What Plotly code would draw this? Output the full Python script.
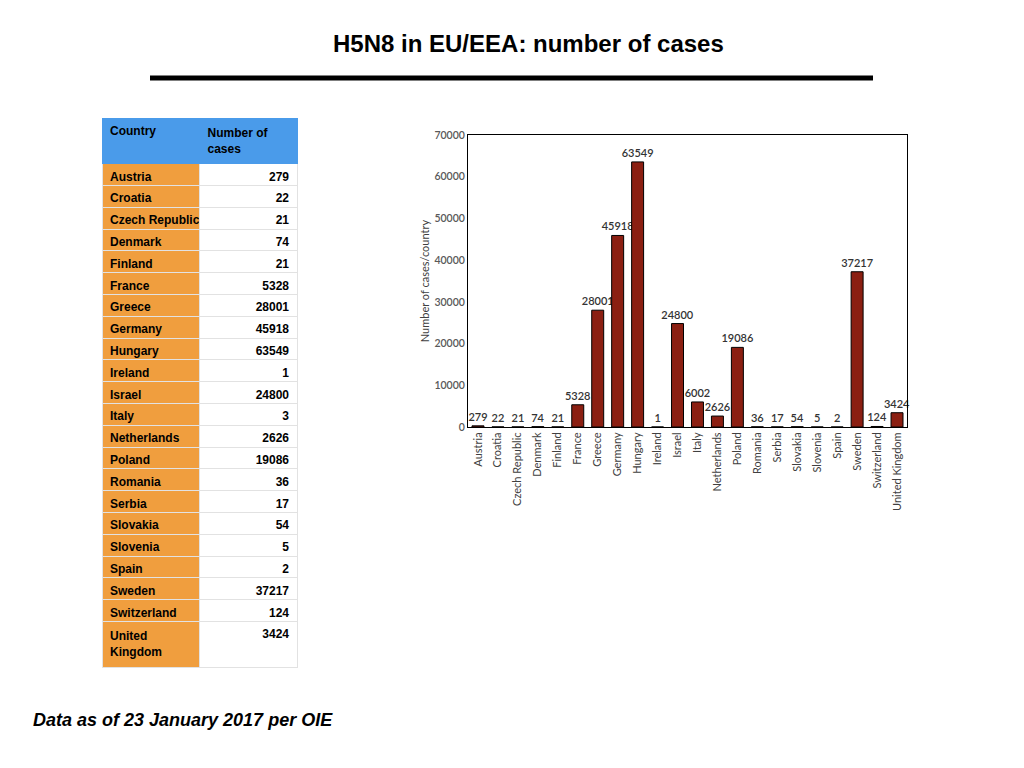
import plotly.graph_objects as go

# data
countries = ['Austria', 'Croatia', 'Czech Republic', 'Denmark', 'Finland', 'France',
             'Greece', 'Germany', 'Hungary', 'Ireland', 'Israel', 'Italy',
             'Netherlands', 'Poland', 'Romania', 'Serbia', 'Slovakia', 'Slovenia',
             'Spain', 'Sweden', 'Switzerland', 'United Kingdom']
table_cases = [279, 22, 21, 74, 21, 5328, 28001, 45918, 63549, 1, 24800, 3,
               2626, 19086, 36, 17, 54, 5, 2, 37217, 124, 3424]
chart_cases = [279, 22, 21, 74, 21, 5328, 28001, 45918, 63549, 1, 24800, 6002,
               2626, 19086, 36, 17, 54, 5, 2, 37217, 124, 3424]
y_ticks = [0, 10000, 20000, 30000, 40000, 50000, 60000, 70000]

# figure fits inside the window with the 8px page margin
W, H, OFF = 1008, 752, 8
px = lambda v: (v - OFF) / W
py = lambda v: 1 - (v - OFF) / H

fig = go.Figure()

# table on the left (only "United Kingdom" is allowed to wrap)
table_names = [c if c == 'United Kingdom' else c.replace(' ', '\u00a0') for c in countries]
fig.add_trace(go.Table(
    domain=dict(x=[px(102), px(298)], y=[py(690), py(118)]),
    columnwidth=[98, 98],
    header=dict(values=['Country', 'Number of cases'],
                fill_color='#4a9bea', line=dict(color='#4a9bea', width=1),
                align='left', height=36,
                font=dict(family='Liberation Sans, Arial', size=12, color='black',
                          weight='bold')),
    cells=dict(values=[table_names, [str(v) for v in table_cases]],
               fill_color=[['#f09e3e'] * len(countries), ['white'] * len(countries)],
               line=dict(color='#e2e2e2', width=1),
               align=['left', 'right'], height=21.8,
               font=dict(family='Liberation Sans, Arial', size=12, color='black',
                         weight='bold'))
))

# bar chart on the right
fig.add_trace(go.Bar(
    x=countries, y=chart_cases,
    marker=dict(color='#8b1f12', line=dict(color='black', width=1)),
    text=[str(v) for v in chart_cases], textposition='outside', cliponaxis=False,
    constraintext='none',
    textfont=dict(family='Lato, Open Sans', size=11, color='#333333', weight=600),
    width=0.6, showlegend=False
))

fig.update_layout(
    width=W, height=H,
    margin=dict(l=0, r=0, t=0, b=0, autoexpand=False),
    paper_bgcolor='white', plot_bgcolor='white',
    font=dict(family='Lato, Open Sans', size=11, color='#595959'),
    xaxis=dict(domain=[px(468), px(907)], tickangle=-90, showgrid=False,
               showline=True, mirror=True, linecolor='black', linewidth=1,
               ticks='', tickfont=dict(size=11, color='#404040')),
    yaxis=dict(domain=[py(427), py(135)], range=[0, 70000], tickvals=y_ticks,
               tickformat='d', showgrid=False, showline=True, mirror=True,
               linecolor='black', linewidth=1, ticks='', zeroline=False,
               title=dict(text='Number of cases/country', standoff=2,
                          font=dict(size=11, color='#404040')),
               tickfont=dict(size=10.5, color='#595959', weight=600)),
    shapes=[dict(type='line', xref='paper', yref='paper',
                 x0=px(150), x1=px(873), y0=py(78), y1=py(78),
                 line=dict(color='black', width=5))],
    annotations=[
        dict(text='<b>H5N8 in EU/EEA: number of cases</b>', xref='paper', yref='paper',
             x=px(528), y=py(44), showarrow=False, xanchor='center', yanchor='middle',
             font=dict(family='Liberation Sans, Arial', size=24, color='black')),
        dict(text='<b><i>Data as of 23 January 2017 per OIE</i></b>', xref='paper', yref='paper',
             x=px(31), y=py(720), showarrow=False, xanchor='left', yanchor='middle',
             font=dict(family='Liberation Sans, Arial', size=18, color='black')),
    ]
)

fig.write_html("out.html")
